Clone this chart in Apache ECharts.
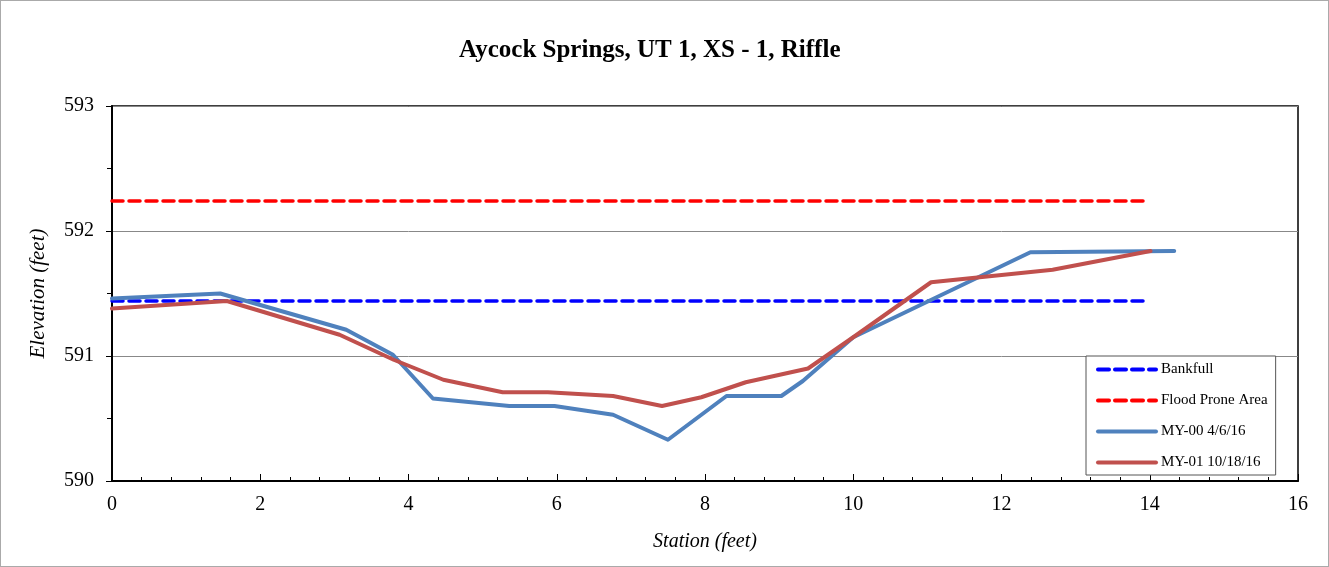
<!DOCTYPE html>
<html>
<head>
<meta charset="utf-8">
<script src="https://cdn.jsdelivr.net/npm/echarts@6/dist/echarts.min.js"></script>
<style>
html,body{margin:0;padding:0;background:#fff;}
#c{width:1329px;height:567px;box-sizing:border-box;border:1px solid #aaa;}
</style>
</head>
<body>
<div id="c"></div>
<script>
var title = 'Aycock Springs, UT 1, XS - 1, Riffle';
var seriesNames = ['Bankfull', 'Flood Prone Area', 'MY-00 4/6/16', 'MY-01 10/18/16'];
var bankfull = [[0, 591.44], [13.93, 591.44]];
var floodProne = [[0, 592.24], [13.93, 592.24]];
var my00 = [[0, 591.46], [1.46, 591.50], [3.16, 591.21], [3.79, 591.01], [4.33, 590.66], [5.36, 590.60], [5.97, 590.60], [6.76, 590.53], [7.50, 590.33], [8.29, 590.68], [9.03, 590.68], [9.32, 590.80], [10.0, 591.15], [12.39, 591.83], [14.33, 591.84]];
var my01 = [[0, 591.38], [1.55, 591.44], [3.07, 591.17], [3.80, 590.97], [4.47, 590.81], [5.27, 590.71], [5.88, 590.71], [6.76, 590.68], [7.42, 590.60], [7.95, 590.67], [8.55, 590.79], [9.39, 590.90], [10.0, 591.15], [11.05, 591.59], [12.69, 591.69], [14.01, 591.84]];
var xTicks = {min: 0, max: 16, interval: 2};
var yTicks = {min: 590, max: 593, interval: 1};

var chart = echarts.init(document.getElementById('c'), null, {renderer: 'canvas'});
var serif = '"Liberation Serif", "Times New Roman", serif';
chart.setOption({
  animation: false,
  backgroundColor: '#fff',
  title: {
    text: title, left: 453, top: 32,
    textStyle: {fontFamily: serif, fontSize: 25, fontWeight: 'bold', color: '#000'}
  },
  grid: {left: 111, right: 30, top: 105, bottom: 85, show: true, borderColor: '#000', borderWidth: 1.5, backgroundColor: 'transparent'},
  legend: {
    orient: 'vertical', left: 1085, top: 355,
    itemWidth: 58, itemHeight: 14, itemGap: 16,
    padding: [6, 8, 5, 10],
    backgroundColor: '#fff', borderColor: '#555', borderWidth: 1,
    itemStyle: {opacity: 0},
    lineStyle: {width: 4},
    textStyle: {fontFamily: serif, fontSize: 15, color: '#000'},
    data: seriesNames
  },
  xAxis: {
    type: 'value', min: xTicks.min, max: xTicks.max, interval: xTicks.interval,
    name: 'Station (feet)', nameLocation: 'middle', nameGap: 51,
    nameTextStyle: {fontFamily: serif, fontSize: 20, fontStyle: 'italic', color: '#000'},
    axisLine: {show: true, lineStyle: {color: '#000', width: 2}},
    axisTick: {show: true, inside: true, length: 7, lineStyle: {color: '#000'}},
    minorTick: {show: true, splitNumber: 5, length: 4, lineStyle: {color: '#000'}},
    splitLine: {show: false},
    axisLabel: {fontFamily: serif, fontSize: 20, color: '#000', margin: 14}
  },
  yAxis: {
    type: 'value', min: yTicks.min, max: yTicks.max, interval: yTicks.interval,
    name: 'Elevation (feet)', nameLocation: 'middle', nameGap: 63,
    nameTextStyle: {fontFamily: serif, fontSize: 21, fontStyle: 'italic', color: '#000'},
    axisLine: {show: true, lineStyle: {color: '#000', width: 2}},
    axisTick: {show: true, inside: false, length: 6, lineStyle: {color: '#000'}},
    minorTick: {show: true, splitNumber: 2, length: 5, lineStyle: {color: '#000'}},
    splitLine: {show: true, lineStyle: {color: '#888', width: 1}},
    axisLabel: {fontFamily: serif, fontSize: 20, color: '#000', margin: 18}
  },
  series: [
    {name: seriesNames[0], type: 'line', data: bankfull, symbol: 'none', z: 2,
     lineStyle: {color: '#0000FF', width: 3.5, type: [11, 6], cap: 'round'}, itemStyle: {color: '#0000FF'}},
    {name: seriesNames[1], type: 'line', data: floodProne, symbol: 'none', z: 2,
     lineStyle: {color: '#FF0000', width: 3.5, type: [11, 6], cap: 'round'}, itemStyle: {color: '#FF0000'}},
    {name: seriesNames[2], type: 'line', data: my00, symbol: 'none', z: 3,
     lineStyle: {color: '#4F81BD', width: 4, cap: 'round', join: 'round'}, itemStyle: {color: '#4F81BD'}},
    {name: seriesNames[3], type: 'line', data: my01, symbol: 'none', z: 4,
     lineStyle: {color: '#C0504D', width: 4, cap: 'round', join: 'round'}, itemStyle: {color: '#C0504D'}}
  ]
});
</script>
</body>
</html>
